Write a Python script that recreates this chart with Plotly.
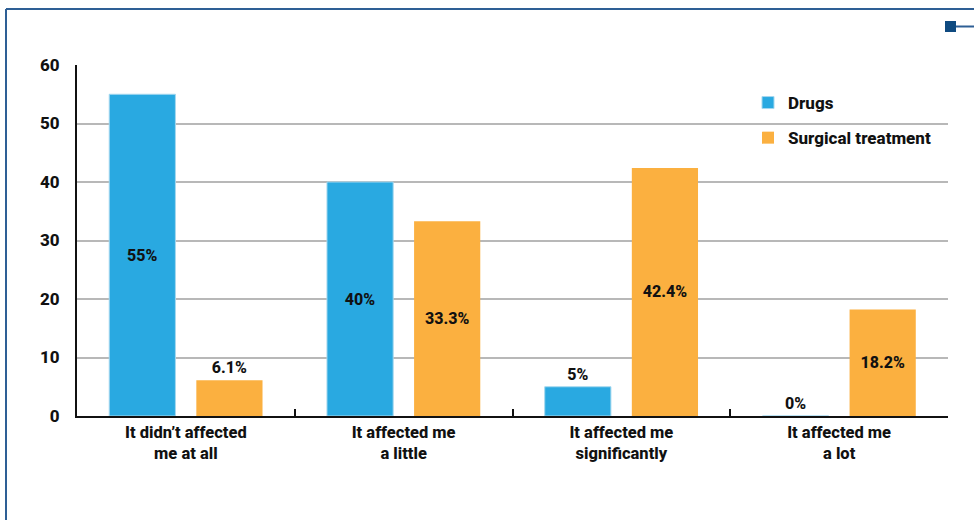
import plotly.graph_objects as go

categories = ["It didn’t affected<br>me at all", "It affected me<br>a little",
              "It affected me<br>significantly", "It affected me<br>a lot"]
drugs = [55, 40, 5, 0]
surgical = [6.1, 33.3, 42.4, 18.2]
drugs_labels = ["55%", "40%", "5%", "0%"]
surgical_labels = ["6.1%", "33.3%", "42.4%", "18.2%"]
y_ticks = [0, 10, 20, 30, 40, 50, 60]

FONT = "Roboto, Liberation Sans, sans-serif"
BLUE = "#29a9e1"
ORANGE = "#fbb040"
FRAME = "#2e5f95"
W = 800

L, R, T, B = 77, 26, 65, 104
PW, PH = 974 - L - R, 520 - T - B


def px(x):
    return (x - L) / PW


def py(y):
    return (520 - B - y) / PH


lbl_font = dict(color="#111", size=16, family=FONT, weight=W)

fig = go.Figure()
fig.add_trace(go.Bar(
    x=categories, y=drugs, name="Drugs", legendgroup="a",
    marker=dict(color=BLUE, line=dict(color="#a5d8ef", width=1)),
    text=drugs_labels, textposition=["inside", "inside", "outside", "outside"],
    insidetextanchor="middle", textangle=0, cliponaxis=False,
    insidetextfont=lbl_font, outsidetextfont=lbl_font,
))
fig.add_trace(go.Bar(
    x=categories, y=surgical, name="Surgical treatment", legendgroup="b",
    marker=dict(color=ORANGE, line=dict(width=0)),
    text=surgical_labels, textposition=["outside", "inside", "inside", "inside"],
    insidetextanchor="middle", textangle=0, cliponaxis=False,
    insidetextfont=lbl_font, outsidetextfont=lbl_font,
))

fig.update_layout(
    width=974, height=520,
    margin=dict(l=L, r=R, t=T, b=B, autoexpand=False),
    paper_bgcolor="white", plot_bgcolor="white",
    barmode="group", bargap=0.2, bargroupgap=0.24,
    font=dict(family=FONT, size=16, color="#111", weight=W),
    showlegend=True,
    legend=dict(x=px(748), y=py(85), xanchor="left", yanchor="top",
                bgcolor="rgba(0,0,0,0)", traceorder="grouped",
                tracegroupgap=10, font=dict(size=17, family=FONT, weight=W),
                itemwidth=30),
    xaxis=dict(showline=True, linecolor="#111", linewidth=2,
               ticks="inside", tickson="boundaries", ticklen=7, tickwidth=2,
               tickcolor="#111", showgrid=False,
               tickfont=dict(size=16.5, family=FONT, weight=W)),
    yaxis=dict(range=[0, 60], tickvals=y_ticks, showline=True, linecolor="#111",
               linewidth=2, showgrid=True, gridcolor="#b8b8b8", gridwidth=2,
               ticks="", ticklabelstandoff=12, zeroline=False,
               tickfont=dict(size=17, family=FONT, weight=W)),
    shapes=[
        dict(type="line", xref="paper", yref="paper", x0=px(6), x1=px(980),
             y0=py(9), y1=py(9), line=dict(color=FRAME, width=2)),
        dict(type="line", xref="paper", yref="paper", x0=px(6), x1=px(6),
             y0=py(9), y1=py(530), line=dict(color=FRAME, width=2)),
        dict(type="rect", xref="paper", yref="paper",
             x0=px(945), x1=px(956), y0=py(32), y1=py(21),
             fillcolor="#0f4a80", line=dict(width=0)),
        dict(type="line", xref="paper", yref="paper",
             x0=px(956), x1=px(980), y0=py(26.5), y1=py(26.5),
             line=dict(color=FRAME, width=2)),
    ],
)

fig.write_html("out.html")
